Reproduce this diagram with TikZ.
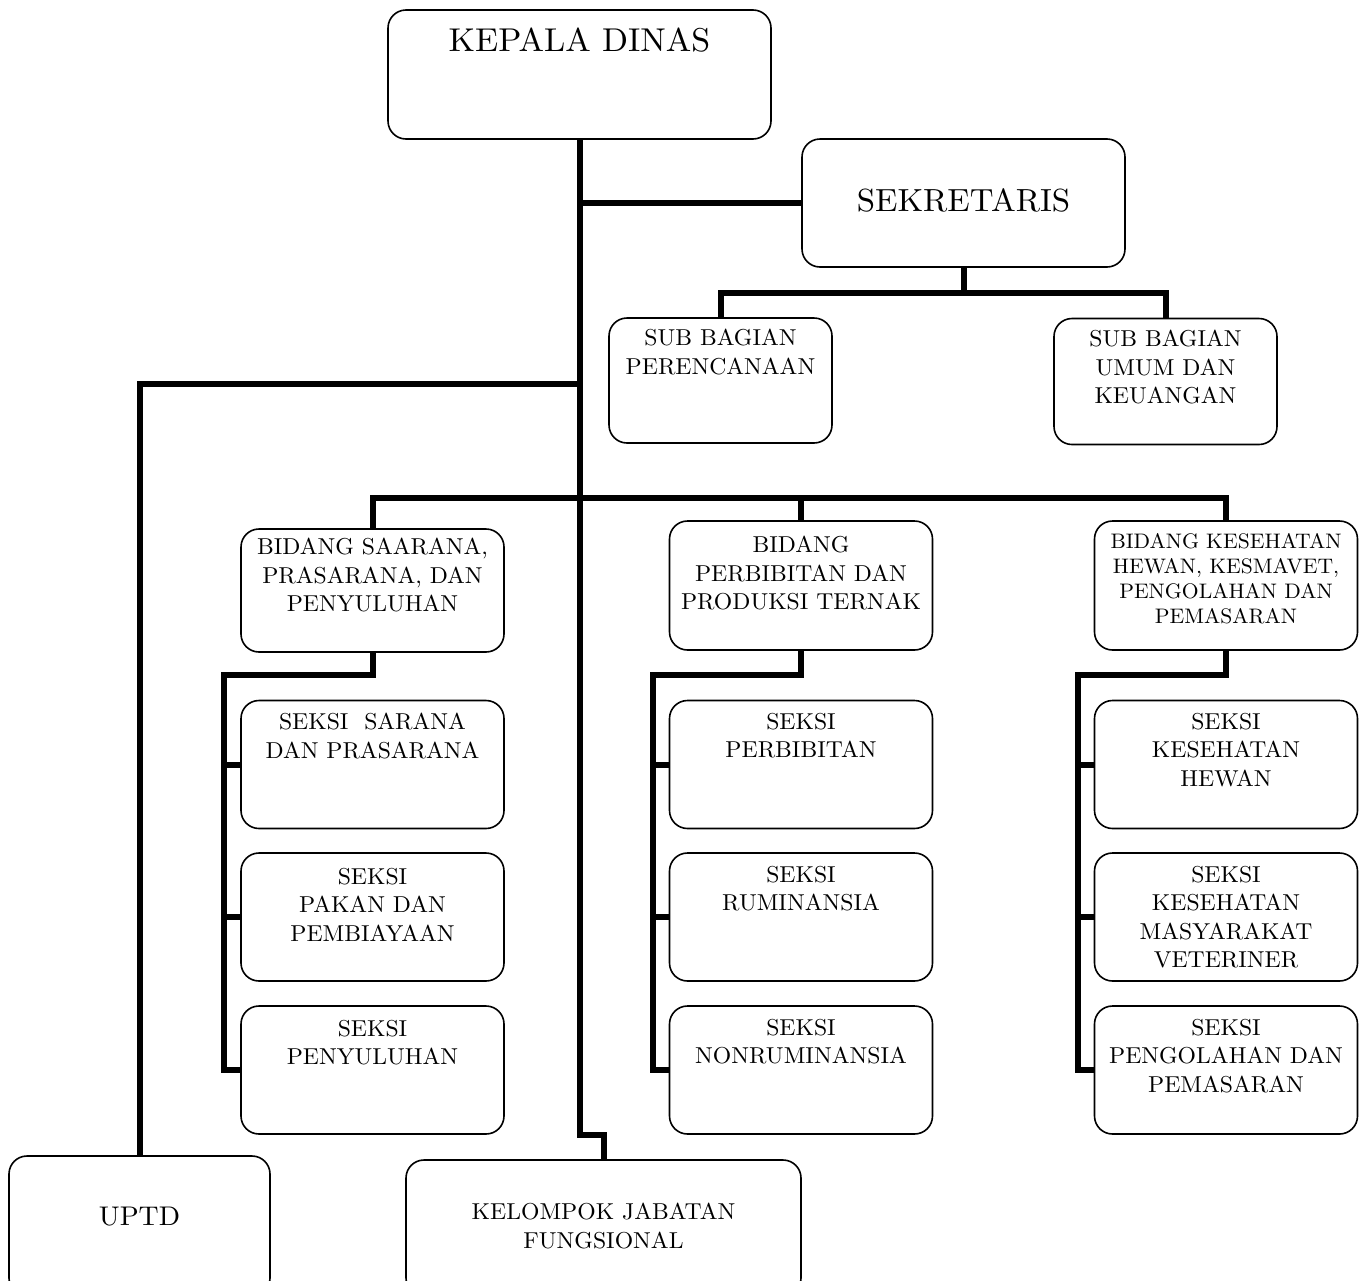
\documentclass[tikz,border=0pt]{standalone}
\usepackage{fontspec}
\setmainfont{lmroman10-regular.otf}[FakeStretch=1.03]
\usetikzlibrary{positioning}

\begin{document}
\begin{tikzpicture}[
    x=1pt, y=-1pt, line join=miter,
    orgbox/.style ={draw, rounded corners=18pt, line width=1.6pt, minimum width=263pt, minimum height=128pt, inner sep=0pt},
    conn/.style   ={line width=6pt},
    txt/.style    ={align=center, inner sep=0pt, anchor=north, font=\fontsize{23}{28.5}\selectfont},
    big/.style    ={inner sep=0pt, font=\fontsize{33}{40}\selectfont}
]
\useasboundingbox (0,0) rectangle (1364,1280);
\clip (0,0) rectangle (1364,1280);

% boxes
\node[orgbox, minimum width=383pt, minimum height=129pt] (kadis) at (579.5,74.5) {};
\node[orgbox, minimum width=323pt] (sekre) at (963.5,203) {};
\node[orgbox, minimum width=223pt, minimum height=125pt] (perenc) at (720.5,380.5) {};
\node[orgbox, minimum width=223pt, minimum height=126pt] (umum) at (1165.5,381.5) {};
\node[orgbox, minimum height=123pt] (bid1) at (372.5,590.5) {};
\node[orgbox, minimum height=129pt] (bid2) at (801,585.5) {};
\node[orgbox, minimum height=129pt] (bid3) at (1226,585.5) {};
\foreach \x [count=\c] in {372.5,801,1226}
  \foreach \y [count=\r] in {764.5,917,1070}
    \node[orgbox] (sek\c\r) at (\x,\y) {};
\node[orgbox, minimum width=261pt, minimum height=140pt] (uptd) at (139.5,1226) {};
\node[orgbox, minimum width=395pt, minimum height=136pt] (kjf) at (603.5,1228) {};

% texts
\node[big, anchor=north] (kadis-t) at (579.5,28) {KEPALA DINAS};
\node[big, font=\fontsize{32}{38}\selectfont] (sekre-t) at (963.5,200) {SEKRETARIS};
\node[txt] (perenc-t) at (720.5,329) {SUB BAGIAN\\PERENCANAAN};
\node[txt] (umum-t) at (1165.5,330) {SUB BAGIAN\\UMUM DAN\\KEUANGAN};
\node[txt] (bid1-t) at (372.5,538) {BIDANG SAARANA,\\PRASARANA, DAN\\PENYULUHAN};
\node[txt] (bid2-t) at (801,536) {BIDANG\\PERBIBITAN DAN\\PRODUKSI TERNAK};
\node[txt, font=\fontsize{21}{25}\selectfont] (bid3-t) at (1226,533) {BIDANG KESEHATAN\\HEWAN, KESMAVET,\\PENGOLAHAN DAN\\PEMASARAN};

\node[txt] (sek11-t) at (372.5,713) {SEKSI\ \ SARANA\\DAN PRASARANA};
\node[txt] (sek12-t) at (372.5,868) {SEKSI\\PAKAN DAN\\PEMBIAYAAN};
\node[txt] (sek13-t) at (372.5,1020) {SEKSI\\PENYULUHAN};
\node[txt] (sek21-t) at (801,713) {SEKSI\\PERBIBITAN};
\node[txt] (sek22-t) at (801,866) {SEKSI\\RUMINANSIA};
\node[txt] (sek23-t) at (801,1019) {SEKSI\\NONRUMINANSIA};
\node[txt] (sek31-t) at (1226,713) {SEKSI\\KESEHATAN\\HEWAN};
\node[txt] (sek32-t) at (1226,866) {SEKSI\\KESEHATAN\\MASYARAKAT\\VETERINER};
\node[txt] (sek33-t) at (1226,1019) {SEKSI\\PENGOLAHAN DAN\\PEMASARAN};

\node[inner sep=0pt, font=\fontsize{27}{32}\selectfont] (uptd-t) at (139.5,1217) {UPTD};
\node[txt] (kjf-t) at (603.5,1203) {KELOMPOK JABATAN\\FUNGSIONAL};

% connectors
\coordinate (jog) at (579.5,1135);
\coordinate (sbus) at (0,293);
\coordinate (ubus) at (0,384);
\coordinate (bbus) at (0,498);
\coordinate (sbend) at (0,675);

\draw[conn] (kadis.south) -- (jog) -| (kjf.north);
\draw[conn] (kadis.south |- sekre.west) -- (sekre.west);
\draw[conn] (sekre.south) -- (sekre.south |- sbus);
\draw[conn] (perenc.north) |- (umum.north |- sbus) -- (umum.north);
\draw[conn] (kadis.south |- ubus) -| (uptd.north);
\draw[conn] (bid1.north) |- (bid3.north |- bbus) -- (bid3.north);
\draw[conn] (bid2.north |- bbus) -- (bid2.north);

\foreach \c in {1,2,3} {
  \coordinate (rail\c) at ([xshift=-16pt]sek\c1.west);
  \draw[conn] (bid\c.south) |- (rail\c |- sbend) -- (rail\c |- sek\c3.west) -- (sek\c3.west);
  \draw[conn] (rail\c) -- (sek\c1.west);
  \draw[conn] (rail\c |- sek\c2.west) -- (sek\c2.west);
}
\end{tikzpicture}
\end{document}
